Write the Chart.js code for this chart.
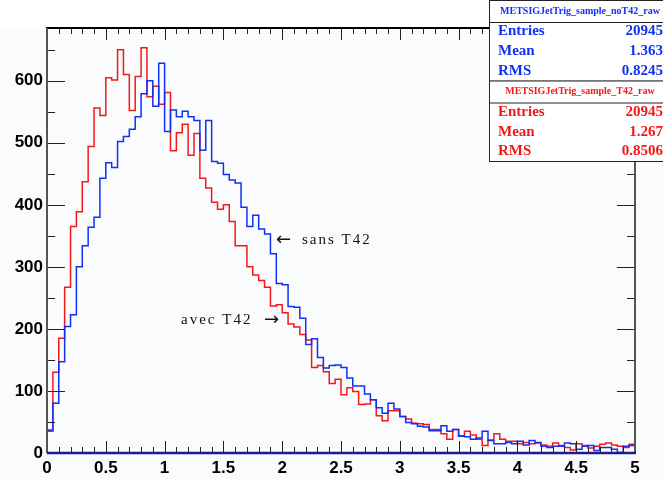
<!DOCTYPE html>
<html>
<head>
<meta charset="utf-8">
<script src="https://cdn.jsdelivr.net/npm/chart.js@4.4.1/dist/chart.umd.min.js"></script>
<style>
  html, body { margin: 0; padding: 0; background: #ffffff; }
  canvas { display: block; }
</style>
</head>
<body>
<canvas id="grafico" width="663" height="479"></canvas>
<script>
/* ===== DADOS ===== */
const bin_largura = 0.05; // 100 bins de 0 a 5

// METSIGJetTrig_sample_noT42_raw (azul)
const sans_t42 = [
  37, 80, 147, 204, 223, 300, 334, 364, 380, 443,
  468, 460, 502, 510, 522, 542, 579, 600, 559, 628,
  518, 553, 542, 551, 542, 536, 488, 536, 470, 467,
  449, 440, 435, 396, 365, 383, 361, 353, 321, 273,
  271, 236, 235, 217, 175, 184, 154, 137, 141, 142,
  138, 121, 108, 108, 95, 86, 73, 64, 80, 71,
  59, 49, 47, 43, 42, 36, 36, 44, 35, 38,
  27, 26, 22, 24, 35, 20, 15, 15, 17, 15,
  19, 13, 20, 17, 11, 9, 11, 11, 16, 15,
  6, 11, 12, 4, 9, 9, 6, 1, 11, 12
];

// METSIGJetTrig_sample_T42_raw (vermelho)
const avec_t42 = [
  35, 130, 185, 267, 365, 389, 437, 494, 556, 544,
  605, 601, 650, 610, 552, 607, 653, 574, 591, 562,
  581, 487, 516, 530, 480, 515, 443, 427, 404, 393,
  400, 373, 334, 334, 300, 287, 278, 267, 237, 239,
  226, 208, 203, 191, 182, 138, 141, 131, 112, 119,
  94, 105, 99, 78, 79, 86, 60, 52, 68, 68,
  59, 55, 48, 47, 46, 38, 38, 31, 22, 38,
  28, 35, 29, 22, 12, 21, 31, 22, 19, 19,
  15, 17, 15, 16, 13, 11, 16, 12, 9, 5,
  15, 12, 8, 11, 14, 16, 13, 11, 9, 14
];

const x_ticks = [0, 0.5, 1, 1.5, 2, 2.5, 3, 3.5, 4, 4.5, 5];
const x_tick_labels = ['0', '0.5', '1', '1.5', '2', '2.5', '3', '3.5', '4', '4.5', '5'];
const y_ticks = [0, 100, 200, 300, 400, 500, 600];
const y_max = 685;

const stats_nomes = ['Entries', 'Mean', 'RMS'];
const stats_sans_titulo = 'METSIGJetTrig_sample_noT42_raw';
const stats_sans_valores = ['20945', '1.363', '0.8245'];
const stats_avec_titulo = 'METSIGJetTrig_sample_T42_raw';
const stats_avec_valores = ['20945', '1.267', '0.8506'];

const cor_azul = '#1030f5';
const cor_vermelho = '#f51818';

/* ===== HISTOGRAMAS ===== */
function histo_pontos(valores) {
  const pts = [];
  valores.forEach((v, i) => pts.push({ x: i * bin_largura, y: v }));
  pts.push({ x: valores.length * bin_largura, y: valores[valores.length - 1] });
  return pts;
}

function linha(c, x1, y1, x2, y2) {
  c.beginPath();
  c.moveTo(x1, y1);
  c.lineTo(x2, y2);
  c.stroke();
}

/* ===== MOLDURA, TICKS, CAIXAS ===== */
const moldura_plugin = {
  id: 'moldura',
  beforeDraw(chart) {
    const c = chart.ctx;
    c.save();
    c.fillStyle = '#f9fbfc';
    c.fillRect(0, 0, chart.width, chart.height);
    c.fillStyle = '#ffffff';
    c.fillRect(0, 0, chart.width, 27);
    c.restore();
  },
  afterDatasetsDraw(chart) {
    const c = chart.ctx;
    const a = chart.chartArea;
    const sx = chart.scales.x;
    const sy = chart.scales.y;
    c.save();
    c.lineWidth = 1;
    c.strokeStyle = '#222';
    // ticks do eixo x: menores a cada 0.1, maiores a cada 0.5
    for (let k = 0; k <= 50; k++) {
      const px = Math.round(sx.getPixelForValue(k / 10)) + 0.5;
      const len = (k % 5 == 0) ? 12 : 6;
      linha(c, px, a.bottom, px, a.bottom - len);
      linha(c, px, a.top, px, a.top + len);
    }
    // ticks do eixo y: menores a cada 50, maiores a cada 100
    for (let v = 0; v <= 650; v += 50) {
      const py = Math.round(sy.getPixelForValue(v)) + 0.5;
      const len = (v % 100 == 0) ? 18 : 8;
      linha(c, a.left, py, a.left + len, py);
      linha(c, a.right, py, a.right - len, py);
    }
    // eixos
    c.lineWidth = 2;
    c.strokeStyle = '#000';
    linha(c, a.left - 1, a.top, a.right + 1, a.top);
    c.strokeStyle = '#555';
    linha(c, a.left, a.top, a.left, a.bottom);
    linha(c, a.right, a.top, a.right, a.bottom);
    c.lineWidth = 2.5;
    c.strokeStyle = '#1c1c8a';
    linha(c, a.left, a.bottom, a.right + 1, a.bottom);
    c.restore();
  },
  afterDraw(chart) {
    const c = chart.ctx;
    c.save();
    // anotacoes
    c.fillStyle = '#111';
    c.textBaseline = 'middle';
    c.font = '15px "Liberation Serif"';
    c.letterSpacing = '2px';
    c.textAlign = 'left';
    c.fillText('sans T42', 302, 240);
    c.fillText('avec T42', 181, 320);
    c.letterSpacing = '0px';
    c.font = '18px "DejaVu Sans"';
    c.fillText('\u2190', 276, 240);
    c.fillText('\u2192', 264, 320);

    desenha_caixa(c, 0, stats_sans_titulo, stats_sans_valores, cor_azul);
    desenha_caixa(c, 80.5, stats_avec_titulo, stats_avec_valores, cor_vermelho);
    c.restore();
  }
};

function desenha_caixa(c, topo, titulo, valores, cor) {
  const esq = 489.5;
  const larg = 200;
  const alt = 80.5;
  c.fillStyle = '#ffffff';
  c.fillRect(esq, topo, larg, alt);
  c.lineWidth = 1;
  c.strokeStyle = '#222';
  c.strokeRect(esq, topo + 0.5, larg, alt);
  linha(c, esq, topo + 22.5, esq + larg, topo + 22.5);

  c.fillStyle = cor;
  c.textBaseline = 'middle';
  c.textAlign = 'center';
  c.font = 'bold 10px "Liberation Serif"';
  c.fillText(titulo, 580, topo + 11);

  c.font = 'bold 15px "Liberation Serif"';
  const linhas_y = [31.5, 51.5, 71];
  stats_nomes.forEach((nome, i) => {
    c.textAlign = 'left';
    c.fillText(nome, 498, topo + linhas_y[i]);
    c.textAlign = 'right';
    c.fillText(valores[i], 663, topo + linhas_y[i]);
  });
}

/* ===== GRAFICO ===== */
const grafico_ctx = document.getElementById('grafico');

const dataset_sans = {
  label: 'sans T42',
  data: histo_pontos(sans_t42),
  borderColor: cor_azul,
  borderWidth: 1.5,
  stepped: 'before',
  pointRadius: 0,
  fill: false
};
const dataset_avec = {
  label: 'avec T42',
  data: histo_pontos(avec_t42),
  borderColor: cor_vermelho,
  borderWidth: 1.5,
  stepped: 'before',
  pointRadius: 0,
  fill: false
};

const fonte_eixo = { family: 'Liberation Sans', size: 17, weight: 'bold' };

const chart_config = {
  type: 'line',
  data: { datasets: [dataset_sans, dataset_avec] },
  options: {
    responsive: false,
    animation: false,
    layout: { padding: { top: 28, right: 28, left: 0, bottom: 0 } },
    plugins: { legend: { display: false }, tooltip: { enabled: false } },
    scales: {
      x: {
        type: 'linear', min: 0, max: 5,
        afterBuildTicks: (s) => { s.ticks = x_ticks.map(v => ({ value: v })); },
        afterFit: (s) => { s.height = 26; },
        grid: { display: false, drawTicks: false },
        border: { display: false },
        ticks: { font: fonte_eixo, color: '#000', padding: 5, autoSkip: false, maxRotation: 0,
                 callback: (v, i) => x_tick_labels[i] }
      },
      y: {
        type: 'linear', min: 0, max: y_max,
        afterBuildTicks: (s) => { s.ticks = y_ticks.map(v => ({ value: v })); },
        afterFit: (s) => { s.width = 47; },
        grid: { display: false, drawTicks: false },
        border: { display: false },
        ticks: { font: fonte_eixo, color: '#000', padding: 4, autoSkip: false,
                 callback: (v) => String(v) }
      }
    }
  },
  plugins: [moldura_plugin]
};

const chart1 = new Chart(grafico_ctx, chart_config);
</script>
</body>
</html>
